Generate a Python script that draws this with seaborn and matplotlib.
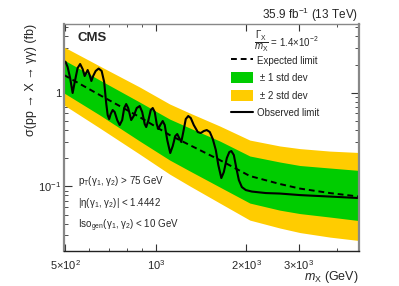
import seaborn as sns
import matplotlib.pyplot as plt
from matplotlib.lines import Line2D
from matplotlib.patches import Patch
from matplotlib.ticker import FixedLocator, NullFormatter, LogLocator

# expected limit and its bands, sigma in fb vs m_X in GeV
mass_exp = [495, 651, 884, 1113, 1298, 1634, 2057, 2589, 3020, 3802, 4750]
expected = [1.546, 0.945, 0.550, 0.353, 0.276, 0.191, 0.129, 0.106, 0.0947, 0.0848, 0.0778]
plus2 = [3.078, 1.928, 1.151, 0.758, 0.607, 0.441, 0.312, 0.270, 0.253, 0.238, 0.230]
plus1 = [2.235, 1.366, 0.795, 0.523, 0.420, 0.305, 0.211, 0.182, 0.167, 0.157, 0.148]
minus1 = [0.993, 0.578, 0.305, 0.191, 0.146, 0.0983, 0.0663, 0.0557, 0.0512, 0.0470, 0.0431]
minus2 = [0.739, 0.420, 0.221, 0.135, 0.101, 0.0663, 0.0436, 0.0359, 0.0321, 0.0287, 0.0264]

# observed limit
mass_obs = [495, 501, 509, 518.8, 528.9, 539.1, 549.5, 560.2, 571, 579.9,
            586.6, 593.4, 602.6, 610.5, 619, 631, 645.7, 660.7, 673.5, 683.9,
            691.8, 699.8, 707.9, 718.9, 730, 744.2, 758.6, 773.3, 785.2, 797.4,
            809.7, 828.5, 844.6, 864.3, 884.4, 901.5, 918.9, 929.5, 944.1, 962.4,
            977.2, 992.4, 1007.7, 1019.4, 1035, 1055.1, 1071.5, 1092.2, 1117.6, 1139.3,
            1161.4, 1179.3, 1197.5, 1216.2, 1235.1, 1258.9, 1283.3, 1308.2, 1338.6, 1380.4,
            1412.5, 1445.4, 1479.1, 1513.6, 1548.8, 1584.9, 1615.6, 1653.3, 1685.4, 1724.6,
            1757.9, 1785.2, 1819.7, 1854.9, 1891, 1935, 1995, 2089, 2326, 2590,
            3020, 3802, 4750]
observed = [2.18, 2.13, 1.88, 1.436, 0.993, 1.367, 1.836, 2.026, 1.79, 1.508,
            1.623, 1.748, 1.546, 1.334, 1.508, 1.706, 1.814, 1.706, 1.301, 0.776,
            0.578, 0.5236, 0.5922, 0.6533, 0.622, 0.5108, 0.4518, 0.5108, 0.6864, 0.7572,
            0.6864, 0.5108, 0.5638, 0.6864, 0.7208, 0.622, 0.463, 0.430, 0.4984, 0.6533,
            0.6864, 0.622, 0.463, 0.4096, 0.4518, 0.4984, 0.4518, 0.3125, 0.2269, 0.2695,
            0.3446, 0.362, 0.3281, 0.2974, 0.3803, 0.5236, 0.5638, 0.5366, 0.4518, 0.3803,
            0.3711, 0.3898, 0.3995, 0.3803, 0.3201, 0.2443, 0.1689, 0.1227, 0.1422, 0.2006,
            0.2326, 0.2383, 0.216, 0.1569, 0.1168, 0.0983, 0.0913, 0.088, 0.0848, 0.0838,
            0.0807, 0.0778, 0.075]

sns.set_style("ticks")
plt.rcParams["font.family"] = ["Liberation Sans", "DejaVu Sans"]
plt.rcParams["mathtext.fontset"] = "custom"
plt.rcParams["mathtext.rm"] = "Liberation Sans"
plt.rcParams["mathtext.it"] = "Liberation Sans:italic"
plt.rcParams["mathtext.bf"] = "Liberation Sans:bold"

W, H = 399, 286
fig = plt.figure(figsize=(W / 100, H / 100), dpi=100)
ax = fig.add_axes([64 / W, 1 - 251 / H, 295 / W, 227 / H])

green = "#00cc00"
yellow = "#ffcc00"
ax.fill_between(mass_exp, minus2, plus2, color=yellow, lw=0)
ax.fill_between(mass_exp, minus1, plus1, color=green, lw=0)
sns.lineplot(x=mass_exp, y=expected, ax=ax, color="black", lw=1.4,
             linestyle=(0, (3, 2)))
sns.lineplot(x=mass_obs, y=observed, ax=ax, color="black", lw=1.5)

ax.set_xscale("log")
ax.set_yscale("log")
ax.set_xlim(495, 4750)
ax.set_ylim(0.0204, 5.42)

ax.xaxis.set_major_locator(FixedLocator([500, 1000, 2000, 3000]))
ax.set_xticklabels(["5×10$^{2}$", "10$^{3}$", "2×10$^{3}$", "3×10$^{3}$"])
ax.xaxis.set_minor_locator(FixedLocator([600, 700, 800, 900, 4000]))
ax.xaxis.set_minor_formatter(NullFormatter())
ax.yaxis.set_major_locator(FixedLocator([0.1, 1]))
ax.set_yticklabels(["10$^{-1}$", "1"])
ax.yaxis.set_minor_locator(LogLocator(base=10, subs=range(2, 10)))
ax.yaxis.set_minor_formatter(NullFormatter())

ax.tick_params(which="both", direction="in", top=True, right=True,
               labelsize=8, color="#333333")
ax.tick_params(axis="x", which="major", length=5, pad=5)
ax.tick_params(axis="x", which="minor", length=2.5)
ax.tick_params(axis="y", which="major", length=6, pad=2)
ax.tick_params(axis="y", which="minor", length=3)

for side in ["left", "right"]:
    ax.spines[side].set_color("#888888")
    ax.spines[side].set_linewidth(1.6)
ax.spines["top"].set_color("#888888")
ax.spines["top"].set_linewidth(1.0)
ax.spines["bottom"].set_color("#222222")
ax.spines["bottom"].set_linewidth(1.0)

ax.set_xlabel("$m_\\mathrm{X}$ (GeV)", fontsize=9, loc="right")
ax.xaxis.set_label_coords(1.0, -0.08)
ax.set_ylabel("σ(pp → X → γγ) (fb)", fontsize=9, loc="top")
ax.yaxis.set_label_coords(-0.09, 1.0)

fig.text(78 / W, 1 - 38 / H, "CMS", fontsize=9.5, weight="bold", va="center")
fig.text(358 / W, 1 - 15 / H, "35.9 fb$^{-1}$ (13 TeV)", fontsize=8.5,
         ha="right", va="center")
fig.text(254 / W, 1 - 41.5 / H,
         r"$\dfrac{\mathit{\Gamma}_\mathrm{X}}{\mathit{m}_\mathrm{X}}$ = 1.4×10$^{-2}$",
         fontsize=7, va="center")

cuts = ["p$_\\mathrm{T}$(γ$_1$, γ$_2$) > 75 GeV",
        "|η(γ$_1$, γ$_2$)| < 1.4442",
        "Iso$_\\mathrm{gen}$(γ$_1$, γ$_2$) < 10 GeV"]
for y, txt in zip([181.3, 203, 225.7], cuts):
    fig.text(78 / W, 1 - y / H, txt, fontsize=7, va="center")

handles = [
    Line2D([], [], color="black", lw=1.4, linestyle=(0, (3, 2))),
    Patch(facecolor=green, edgecolor="none"),
    Patch(facecolor=yellow, edgecolor="none"),
    Line2D([], [], color="black", lw=1.5),
]
labels = ["Expected limit", " ± 1 std dev", " ± 2 std dev", "Observed limit"]
ax.legend(handles, labels, loc="upper left",
          bbox_to_anchor=(231 / W, 1 - 55 / H), bbox_transform=fig.transFigure,
          frameon=False, fontsize=7, borderpad=0, borderaxespad=0,
          handlelength=2.23, handleheight=1.34, handletextpad=0.45,
          labelspacing=0.68)

fig.savefig("out.png", dpi=100)
